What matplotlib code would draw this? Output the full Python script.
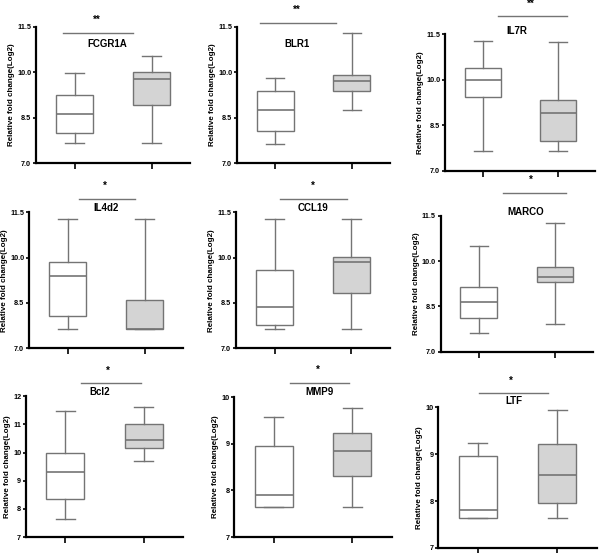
import matplotlib
matplotlib.use("Agg")
import matplotlib.pyplot as plt
from matplotlib.ticker import FormatStrFormatter

plt.rcParams["font.family"] = ["Liberation Sans", "DejaVu Sans"]
plt.rcParams["font.weight"] = "bold"

genes = ["FCGR1A", "BLR1", "IL7R", "IL4d2", "CCL19", "MARCO", "Bcl2", "MMP9", "LTF"]
stars = ["**", "**", "**", "*", "*", "*", "*", "*", "*"]

# group 1 (white boxes): lower whisker, Q1, median, Q3, upper whisker
g1_low = [7.65, 7.63, 7.65, 7.64, 7.64, 7.63, 7.63, 7.64, 7.65]
g1_q1 = [7.99, 8.05, 9.44, 8.07, 7.77, 8.13, 8.36, 7.64, 7.65]
g1_med = [8.61, 8.74, 9.99, 9.39, 8.36, 8.66, 9.32, 7.89, 7.80]
g1_q3 = [9.23, 9.39, 10.38, 9.86, 9.59, 9.13, 9.97, 8.96, 8.96]
g1_high = [9.96, 9.80, 11.29, 11.29, 11.29, 10.51, 11.47, 9.57, 9.23]

# group 2 (grey boxes)
g2_low = [7.65, 8.74, 7.65, 7.64, 7.64, 7.90, 9.69, 7.64, 7.65]
g2_q1 = [8.90, 9.38, 7.99, 7.64, 8.82, 9.29, 10.16, 8.31, 7.95]
g2_med = [9.78, 9.71, 8.91, 7.64, 9.87, 9.48, 10.46, 8.85, 8.56]
g2_q3 = [10.02, 9.91, 9.33, 8.60, 10.02, 9.79, 11.02, 9.22, 9.22]
g2_high = [10.53, 11.28, 11.26, 11.29, 11.29, 11.27, 11.61, 9.76, 9.94]

# axis ranges and ticks
y_min = [7.0, 7.0, 7.0, 7.0, 7.0, 7.0, 7, 7, 7]
y_max = [11.5, 11.5, 11.5, 11.5, 11.5, 11.5, 12, 10, 10]
y_step = [1.5, 1.5, 1.5, 1.5, 1.5, 1.5, 1, 1, 1]

# axes rectangles in pixels: left, top, right, bottom
px_rects = [
    (36, 26.7, 190, 163), (237, 26.7, 390, 163), (445, 34.3, 595, 170.7),
    (29, 212.3, 183, 348.3), (236, 212.3, 390, 348.3), (440.7, 215.7, 593, 351.7),
    (26, 396.3, 183, 537), (234.3, 397, 391.7, 537), (438.3, 407.3, 596.7, 548),
]
# significance line x0, x1, y; star x, y; gene label x, y
annot = [
    (0.85, 1.76, 11.30, 1.29, 11.72, 1.42, 10.92),
    (0.80, 1.79, 11.63, 1.28, 12.05, 1.28, 10.93),
    (1.21, 2.13, 12.12, 1.64, 12.50, 1.46, 11.61),
    (1.15, 1.88, 11.94, 1.49, 12.37, 1.50, 11.63),
    (1.07, 1.94, 11.94, 1.50, 12.37, 1.50, 11.63),
    (1.32, 2.15, 12.26, 1.69, 12.68, 1.62, 11.61),
    (1.20, 1.96, 12.47, 1.54, 12.90, 1.44, 12.15),
    (1.21, 1.96, 10.30, 1.56, 10.58, 1.58, 10.10),
    (1.01, 1.88, 10.30, 1.41, 10.56, 1.45, 10.13),
]

W, H = 600, 553
fig = plt.figure(figsize=(W / 100, H / 100), dpi=100)
grey = "#747474"

for i, gene in enumerate(genes):
    l, t, r, b = px_rects[i]
    ax = fig.add_axes([l / W, (H - b) / H, (r - l) / W, (b - t) / H])
    stats = [
        dict(whislo=g1_low[i], q1=g1_q1[i], med=g1_med[i], q3=g1_q3[i], whishi=g1_high[i], fliers=[]),
        dict(whislo=g2_low[i], q1=g2_q1[i], med=g2_med[i], q3=g2_q3[i], whishi=g2_high[i], fliers=[]),
    ]
    bp = ax.bxp(stats, positions=[1, 2], widths=0.48, patch_artist=True, showfliers=False,
                boxprops=dict(edgecolor=grey, linewidth=1.0),
                whiskerprops=dict(color=grey, linewidth=1.0),
                capprops=dict(color=grey, linewidth=1.0),
                medianprops=dict(color=grey, linewidth=1.2))
    bp["boxes"][0].set_facecolor("white")
    bp["boxes"][1].set_facecolor("#d4d4d4")
    for c in bp["caps"]:
        x = c.get_xdata()
        mid = (x[0] + x[1]) / 2
        c.set_xdata([mid - 0.12, mid + 0.12])

    ax.set_xlim(0.5, 2.5)
    ax.set_ylim(y_min[i], y_max[i])
    ticks = []
    v = y_min[i]
    while v <= y_max[i] + 1e-6:
        ticks.append(v)
        v += y_step[i]
    ax.set_yticks(ticks)
    if y_step[i] < 1.2:
        ax.yaxis.set_major_formatter(FormatStrFormatter("%d"))
    else:
        ax.yaxis.set_major_formatter(FormatStrFormatter("%.1f"))
    ax.set_xticks([1, 2])
    ax.set_xticklabels(["", ""])
    for s in ["top", "right"]:
        ax.spines[s].set_visible(False)
    for s in ["left", "bottom"]:
        ax.spines[s].set_linewidth(1.6)
    ax.tick_params(axis="y", length=2.5, width=1.2, pad=1, labelsize=5.2)
    ax.tick_params(axis="x", length=4, width=1.2)
    for lab in ax.get_yticklabels():
        lab.set_fontweight("bold")
    ax.set_ylabel("Relative fold change(Log2)", fontsize=5.8, fontweight="bold", labelpad=1.5)

    x0, x1, ly, sx, sy, tx, ty = annot[i]
    ax.plot([x0, x1], [ly, ly], color=grey, linewidth=1.0, clip_on=False)
    ax.text(sx, sy, stars[i], ha="center", va="center", fontsize=7, fontweight="bold", clip_on=False)
    ax.text(tx, ty, gene, ha="center", va="center", fontsize=7, fontweight="bold", clip_on=False)

fig.savefig("out.png", dpi=100)
